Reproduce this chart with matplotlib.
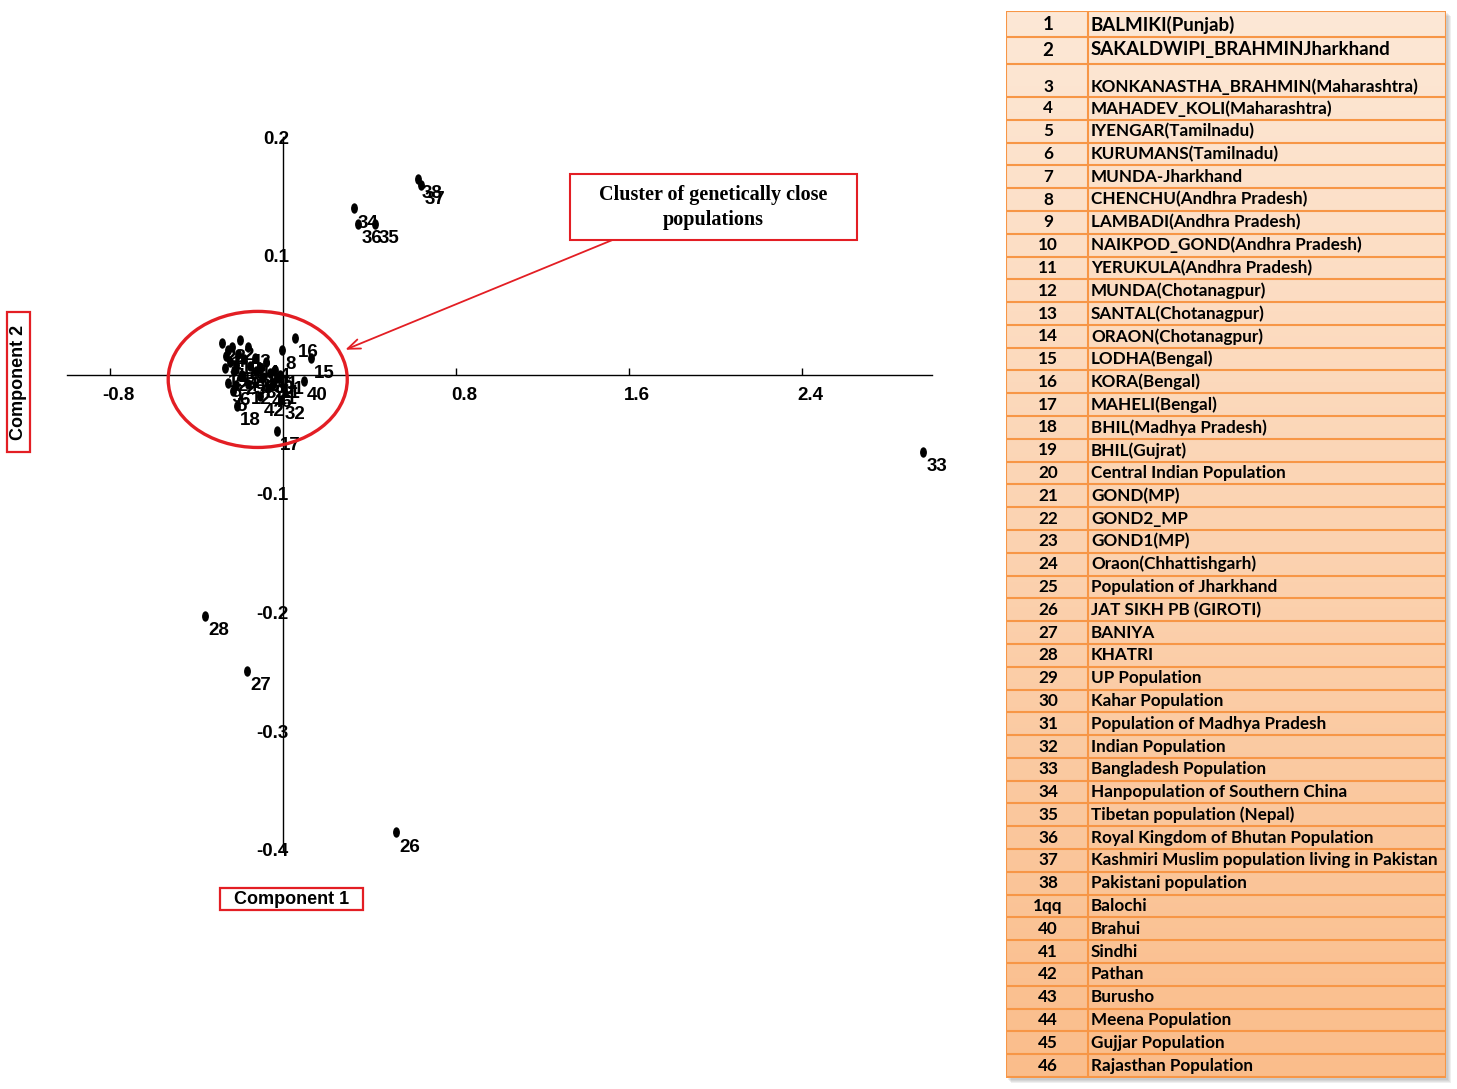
import matplotlib.pyplot as plt
import numpy as np
from matplotlib.markers import MarkerStyle
from matplotlib.patches import Ellipse, Rectangle
from matplotlib.transforms import Affine2D, ScaledTranslation

# PCA scores (Component 1, Component 2) for the 46 populations
point_labels = [str(i) for i in range(1, 47)]
comp1 = [-0.254, -0.199, -0.263, -0.236, -0.231, -0.217, -0.245, -0.005, -0.254, -0.208,
         -0.023, -0.162, -0.180, -0.078, 0.129, 0.055, -0.028, -0.213, -0.268, -0.153,
         -0.046, -0.282, -0.125, -0.227, -0.106, 0.523, -0.166, -0.361, -0.190, -0.060,
         -0.014, -0.009, 2.960, 0.328, 0.425, 0.347, 0.638, 0.624, -0.097, 0.097,
         -0.037, -0.106, -0.162, -0.129, -0.217, -0.069]
comp2 = [0.021, 0.029, 0.016, 0.023, -0.014, -0.009, 0.011, 0.021, -0.007, 0.017,
         -0.003, -0.008, 0.013, 0.011, 0.014, 0.031, -0.047, -0.026, 0.006, 0.007,
         -0.008, 0.027, 0.003, 0.003, 0.006, -0.385, -0.249, -0.203, 0.000, 0.001,
         0.000, -0.021, -0.065, 0.140, 0.127, 0.127, 0.160, 0.165, -0.003, -0.005,
         0.004, -0.018, 0.023, 0.014, 0.008, -0.011]

xticks = [-0.8, 0.8, 1.6, 2.4]
xtick_labels = ['-0.8', '0.8', '1.6', '2.4']
yticks = [0.2, 0.1, -0.1, -0.2, -0.3, -0.4]
ytick_labels = ['0.2', '0.1', '-0.1', '-0.2', '-0.3', '-0.4']

table_ids = [str(i) for i in range(1, 39)] + ['1qq'] + [str(i) for i in range(40, 47)]
table_names = [
    'BALMIKI(Punjab)', 'SAKALDWIPI_BRAHMINJharkhand', 'KONKANASTHA_BRAHMIN(Maharashtra)',
    'MAHADEV_KOLI(Maharashtra)', 'IYENGAR(Tamilnadu)', 'KURUMANS(Tamilnadu)', 'MUNDA-Jharkhand',
    'CHENCHU(Andhra Pradesh)', 'LAMBADI(Andhra Pradesh)', 'NAIKPOD_GOND(Andhra Pradesh)',
    'YERUKULA(Andhra Pradesh)', 'MUNDA(Chotanagpur)', 'SANTAL(Chotanagpur)', 'ORAON(Chotanagpur)',
    'LODHA(Bengal)', 'KORA(Bengal)', 'MAHELI(Bengal)', 'BHIL(Madhya Pradesh)', 'BHIL(Gujrat)',
    'Central Indian Population', 'GOND(MP)', 'GOND2_MP', 'GOND1(MP)', 'Oraon(Chhattishgarh)',
    'Population of Jharkhand', 'JAT SIKH PB (GIROTI)', 'BANIYA', 'KHATRI', 'UP Population',
    'Kahar Population', 'Population of Madhya Pradesh', 'Indian Population',
    'Bangladesh Population', 'Hanpopulation of Southern China', 'Tibetan population (Nepal)',
    'Royal Kingdom of Bhutan Population', 'Kashmiri Muslim population living in Pakistan',
    'Pakistani population', 'Balochi', 'Brahui', 'Sindhi', 'Pathan', 'Burusho',
    'Meena Population', 'Gujjar Population', 'Rajasthan Population']

W, H = 1457, 1089
RED = '#E31E24'
ORANGE = '#F79646'
SANS = 'Liberation Sans'

fig = plt.figure(figsize=(W / 100, H / 100), dpi=100)
ax = fig.add_axes([67 / W, 1 - 850 / H, 865 / W, 713 / H])
ax.set_xlim(-1.0, 3.0)
ax.set_ylim(-0.4, 0.2)
for s in ['top', 'right']:
    ax.spines[s].set_visible(False)
ax.spines['left'].set_position('zero')
ax.spines['bottom'].set_position('zero')
ax.spines['left'].set_linewidth(1.0)
ax.spines['bottom'].set_linewidth(1.0)
ax.set_xticks(xticks)
ax.set_xticklabels(xtick_labels, fontsize=13.5, fontweight='bold', family=SANS)
ax.set_yticks(yticks)
ax.set_yticklabels(ytick_labels, fontsize=13.5, fontweight='bold', family=SANS)
ax.tick_params(axis='x', direction='in', length=5, width=1, pad=9)
ax.tick_params(axis='y', length=0, pad=-4)
for t in ax.get_xticklabels():
    t.set_transform(t.get_transform() + ScaledTranslation(8 / 100, 0, fig.dpi_scale_trans))

# scatter of populations, small upright ellipses
dot = MarkerStyle('o', transform=Affine2D().scale(0.6, 1.0))
ax.plot(comp1, comp2, linestyle='none', marker=dot, markersize=6.5, color='black', zorder=3)
for lab, x, y in zip(point_labels, comp1, comp2):
    ax.annotate(lab, (x, y), xytext=(3, -15), textcoords='offset pixels', ha='left',
                va='center', fontsize=13.5, fontweight='bold', family=SANS, zorder=4)

# cluster highlight and callout
ax.add_patch(Ellipse((-0.118, -0.004), 0.828, 0.1145, fill=False, edgecolor=RED, lw=2.4, zorder=5))
ax.annotate('', xy=(0.287, 0.021), xytext=(1.558, 0.116),
            arrowprops=dict(arrowstyle='->,head_length=0.9,head_width=0.35', color=RED,
                            lw=1.3, shrinkA=0, shrinkB=0))
ax.add_patch(Rectangle((1.327, 0.1136), 1.327, 0.0556, facecolor='white', edgecolor=RED,
                       lw=1.5, zorder=5))
ax.text(1.988, 0.1406, 'Cluster of genetically close\npopulations', ha='center', va='center',
        fontsize=14.5, fontweight='bold', family='Liberation Serif', linespacing=1.3, zorder=6)


def fig_box(x0, y0, x1, y1):
    fig.add_artist(Rectangle((x0 / W, 1 - y1 / H), (x1 - x0) / W, (y1 - y0) / H,
                             transform=fig.transFigure, fill=False, edgecolor=RED, lw=1.6))


fig_box(7, 312, 30, 452)
fig.text(18.5 / W, 1 - 382 / H, 'Component 2', rotation=90, ha='center', va='center',
         fontsize=13, fontweight='bold', family=SANS)
fig_box(220, 888, 363, 910)
fig.text(291.5 / W, 1 - 899 / H, 'Component 1', ha='center', va='center',
         fontsize=13, fontweight='bold', family=SANS)

# legend table on the right
tw, th = 440, 1067
tax = fig.add_axes([1006 / W, 1 - 1078 / H, tw / W, th / H])
tax.axis('off')
for d in [5, 4, 3, 2]:
    tax.add_patch(Rectangle((d, d), tw, th, facecolor='#808080', alpha=0.12, lw=0,
                            clip_on=False, zorder=0))
top = np.array([253, 232, 214]) / 255
bot = np.array([250, 189, 139]) / 255
grad = np.linspace(0, 1, 256)[:, None, None]
tax.imshow(top + (bot - top) * grad, extent=(0, tw, th, 0), aspect='auto', zorder=1)
tax.set_xlim(0, tw)
tax.set_ylim(th, 0)

row_h = 22.79
edges = [0, 26, 53, 86] + [86 + row_h * k for k in range(1, 44)]
tax.hlines(edges, 0, tw, color=ORANGE, lw=1.5, zorder=2)
tax.vlines([0, 82, tw], 0, th, color=ORANGE, lw=1.5, zorder=2)

centers = [14, 39, 76] + [86 + row_h * (k + 0.5) for k in range(43)]
for i, (num, name, yc) in enumerate(zip(table_ids, table_names, centers)):
    fs = 13.5 if i < 2 else 12.3
    tax.text(42, yc, num, ha='center', va='center', fontsize=fs, fontweight='bold',
             family='Lato', zorder=3)
    tax.text(85, yc, name, ha='left', va='center', fontsize=fs, fontweight='bold',
             family='Lato', zorder=3)

fig.savefig('out.png', dpi=100)
